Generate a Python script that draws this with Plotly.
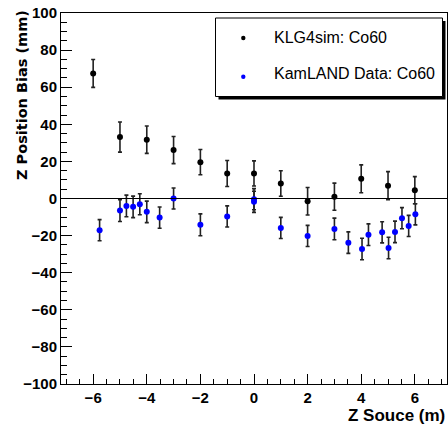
import plotly.graph_objects as go

# KLG4sim: Co60
sim_z = [-6, -5, -4, -3, -2, -1, 0, 1, 2, 3, 4, 5, 6]
sim_bias = [67.4, 33.1, 31.7, 26.1, 19.6, 13.5, 13.5, 8.1, -1.5, 1.0, 10.6, 6.9, 4.5]
sim_err = [7.5, 8.1, 7.4, 7.3, 6.8, 7.0, 6.8, 6.9, 7.4, 7.3, 7.5, 7.6, 7.3]

# KamLAND Data: Co60
data_z = [-5.76, -5.0, -4.76, -4.51, -4.26, -4.0, -3.52, -3.0, -2.0, -1.0, 0.0, 0.0,
          1.0, 2.0, 3.0, 3.52, 4.03, 4.27, 4.78, 5.02, 5.26, 5.52, 5.77, 6.02]
data_bias = [-17.1, -6.5, -4.0, -4.5, -3.1, -7.2, -10.3, 0.0, -14.2, -9.7, -0.4, -1.8,
             -15.9, -20.2, -16.4, -23.8, -27.2, -19.5, -18.2, -26.7, -18.0, -10.6, -14.8, -8.5]
data_err = [5.7, 5.9, 5.8, 5.8, 5.7, 5.8, 5.7, 5.7, 5.9, 5.7, 5.7, 5.7,
            5.7, 5.7, 5.8, 5.8, 5.8, 5.8, 5.7, 5.8, 5.8, 5.7, 5.7, 5.7]

legend_labels = ["KLG4sim: Co60", "KamLAND Data: Co60"]
colors = ["black", "#0000ff"]

W, H = 448, 425
L, R, T, B = 61, 1, 13, 41
pw, ph = W - L - R, H - T - B

def px(x):
    return (x - L) / pw

def py(y):
    return (H - B - y) / ph

fig = go.Figure()
for z, b, e, c in [(sim_z, sim_bias, sim_err, colors[0]), (data_z, data_bias, data_err, colors[1])]:
    fig.add_trace(go.Scatter(
        x=z, y=b, mode="markers",
        marker=dict(color=c, size=6),
        error_y=dict(type="data", array=e, visible=True, color="#222222", thickness=1.6, width=2),
        showlegend=False,
    ))

shapes = [
    dict(type="line", xref="paper", yref="y", x0=0, x1=1, y0=0, y1=0,
         line=dict(color="black", width=1.2)),
    # legend shadow
    dict(type="rect", xref="paper", yref="paper", x0=px(218.5), x1=px(445.5), y0=py(99.5), y1=py(21),
         fillcolor="black", line=dict(width=0)),
    dict(type="rect", xref="paper", yref="paper", x0=px(215.5), x1=px(442.5), y0=py(96.5), y1=py(18),
         fillcolor="white", line=dict(color="black", width=1)),
]
for i, (yy, c) in enumerate([(38, colors[0]), (76.7, colors[1])]):
    r = 2.2
    shapes.append(dict(type="circle", xref="paper", yref="paper",
                       x0=px(243.3 - r), x1=px(243.3 + r), y0=py(yy + r), y1=py(yy - r),
                       fillcolor=c, line=dict(width=0)))

annotations = []
for yy, t in [(37.5, legend_labels[0]), (73, legend_labels[1])]:
    annotations.append(dict(xref="paper", yref="paper", x=px(272), y=py(yy), text=t,
                            showarrow=False, xanchor="left", yanchor="middle",
                            font=dict(family="Liberation Sans", size=16, color="black")))
annotations.append(dict(xref="paper", yref="paper", x=px(447), y=py(415), text="<b>Z Souce (m)</b>",
                        showarrow=False, xanchor="right", yanchor="middle",
                        font=dict(family="Liberation Sans", size=17, color="black")))
annotations.append(dict(xref="paper", yref="paper", x=px(22), y=py(95), text="<b>Z Position Bias (mm)</b>",
                        showarrow=False, xanchor="center", yanchor="middle", textangle=-90,
                        font=dict(family="DejaVu Sans", size=14.5, color="black")))

fig.update_layout(
    width=W, height=H,
    margin=dict(l=L, r=R, t=T, b=B, pad=0),
    paper_bgcolor="white", plot_bgcolor="white",
    shapes=shapes, annotations=annotations,
    xaxis=dict(range=[-7.2, 7.2], dtick=2, tick0=0, ticks="inside", ticklen=10, tickwidth=1,
               tickcolor="black", showline=True, linecolor="black", linewidth=1, mirror=True,
               showgrid=False, zeroline=False,
               tickfont=dict(family="Liberation Sans", size=15, color="black", weight="bold"),
               minor=dict(dtick=0.5, tick0=0, ticks="inside", ticklen=5, tickcolor="black", showgrid=False)),
    yaxis=dict(range=[-100, 100], dtick=20, tick0=0, ticks="inside", ticklen=11, tickwidth=1,
               tickcolor="black", showline=True, linecolor="black", linewidth=1, mirror=True,
               showgrid=False, zeroline=False,
               tickfont=dict(family="Liberation Sans", size=15, color="black", weight="bold"),
               minor=dict(dtick=5, tick0=0, ticks="inside", ticklen=5.5, tickcolor="black", showgrid=False)),
)

fig.write_html("out.html", config={"displayModeBar": False},
               post_script="document.body.style.margin='0';document.body.style.overflow='hidden';")
